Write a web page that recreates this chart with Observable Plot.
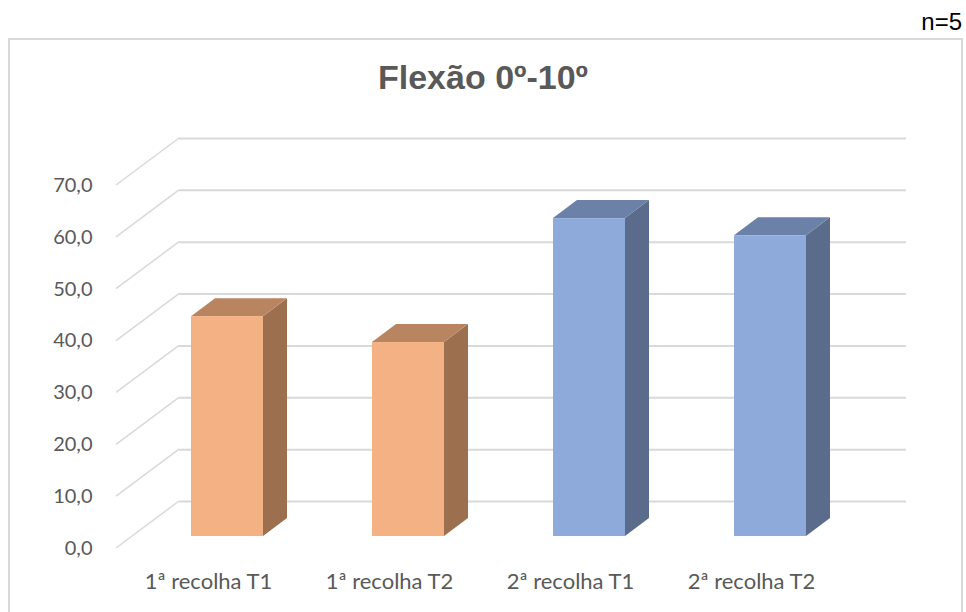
<!DOCTYPE html>
<html>
<head>
<meta charset="utf-8">
<script src="https://cdn.jsdelivr.net/npm/d3@7"></script>
<script src="https://cdn.jsdelivr.net/npm/@observablehq/plot@0.6"></script>
<style>
  html, body { margin: 0; padding: 0; background: #fff; }
  #wrap { position: relative; width: 966px; height: 612px; overflow: hidden; }
  #frame { position: absolute; left: 8px; top: 38px; width: 955px; height: 620px;
           border: 2px solid #d9d9d9; box-sizing: border-box; }
  #note { position: absolute; right: 4px; top: 8px; font: 24px "Liberation Sans", Arial, sans-serif; color: #000; }
  #title { position: absolute; left: 0; width: 966px; top: 58px; text-align: center;
           font: bold 34px "Liberation Sans", Arial, sans-serif; color: #595959; }
  #chart { position: absolute; left: 0; top: 0; }
</style>
</head>
<body>
<div id="wrap">
  <div id="frame"></div>
  <div id="note">n=5</div>
  <div id="title">Flexão 0º-10º</div>
  <div id="chart"></div>
</div>
<script>
// Mean flexion (0º-10º) per collection moment
const categories = ["1ª recolha T1", "1ª recolha T2", "2ª recolha T1", "2ª recolha T2"];
const values = [42.4, 37.4, 61.3, 58.0];
const collection = ["1ª", "1ª", "2ª", "2ª"];
const yTicks = [0, 10, 20, 30, 40, 50, 60, 70];

// face colours: front, side, top
const faceColors = {
  "1ª": {front: "#f4b183", side: "#9c6f4e", top: "#b98560"},
  "2ª": {front: "#8eaadb", side: "#5b6b8b", top: "#6b81a8"}
};

const rows = categories.map((c, i) => ({category: c, value: values[i], collection: collection[i]}));

// oblique projection offsets (pixels): back wall, bar front, bar back
const WALL = [63, -47];
const BAR_FRONT = [19, -12];
const BAR_BACK = [43, -30];
const PAD_INNER = 0.6;
const PAD_OUTER = 0.3;

const fmt = d => d.toFixed(1).replace(".", ",");
const gridColor = "#d9d9d9";

function bandwidthOf(scales, dims) {
  const s = scales.scales && scales.scales.x;
  if (s && s.bandwidth != null) return s.bandwidth;
  const step = (dims.width - dims.marginLeft - dims.marginRight) / categories.length;
  return step * (1 - PAD_INNER);
}

// side and top faces of each bar, drawn from the x and y scales
const barFaces = Plot.barY(rows, {
  x: "category",
  y: "value",
  render: (index, scales, vals, dims) => {
    const g = d3.create("svg:g");
    const bw = bandwidthOf(scales, dims);
    for (const i of index) {
      const d = rows[i];
      const x1 = scales.x(d.category), x2 = x1 + bw;
      const yv = scales.y(d.value), y0 = scales.y(0);
      const [fx, fy] = BAR_FRONT, [bx, by] = BAR_BACK;
      const col = faceColors[d.collection];
      g.append("path")
        .attr("d", `M${x2 + fx},${yv + fy}L${x2 + bx},${yv + by}L${x2 + bx},${y0 + by}L${x2 + fx},${y0 + fy}Z`)
        .attr("fill", col.side);
      g.append("path")
        .attr("d", `M${x1 + fx},${yv + fy}L${x1 + bx},${yv + by}L${x2 + bx},${yv + by}L${x2 + fx},${yv + fy}Z`)
        .attr("fill", col.top);
    }
    return g.node();
  }
});

// diagonal grid lines on the left side wall
const sideWall = Plot.ruleY(yTicks, {
  y: d => d,
  render: (index, scales, vals, dims) => {
    const g = d3.create("svg:g");
    for (const i of index) {
      const y = scales.y(yTicks[i]);
      g.append("line")
        .attr("x1", dims.marginLeft).attr("y1", y)
        .attr("x2", dims.marginLeft + WALL[0]).attr("y2", y + WALL[1])
        .attr("stroke", gridColor).attr("stroke-width", 1.5);
    }
    return g.node();
  }
});

const chart = Plot.plot({
  width: 966,
  height: 612,
  marginLeft: 116,
  marginRight: 123,
  marginTop: 185,
  marginBottom: 64,
  style: {background: "transparent", fontFamily: "Lato, 'Open Sans', sans-serif"},
  x: {domain: categories, paddingInner: PAD_INNER, paddingOuter: PAD_OUTER, align: 0.5},
  y: {domain: [0, 70]},
  marks: [
    Plot.ruleY(yTicks, {y: d => d, dx: WALL[0], dy: WALL[1], stroke: gridColor, strokeWidth: 2}),
    sideWall,
    barFaces,
    Plot.barY(rows, {
      x: "category", y: "value",
      fill: d => faceColors[d.collection].front,
      dx: BAR_FRONT[0], dy: BAR_FRONT[1]
    }),
    Plot.axisY({ticks: yTicks, tickFormat: fmt, tickSize: 0, tickPadding: 24,
                fontSize: 20, fill: "#595959", label: null}),
    Plot.axisX({tickSize: 0, tickPadding: 25, fontSize: 22, fill: "#595959", label: null})
  ]
});

document.getElementById("chart").append(chart);
</script>
</body>
</html>
